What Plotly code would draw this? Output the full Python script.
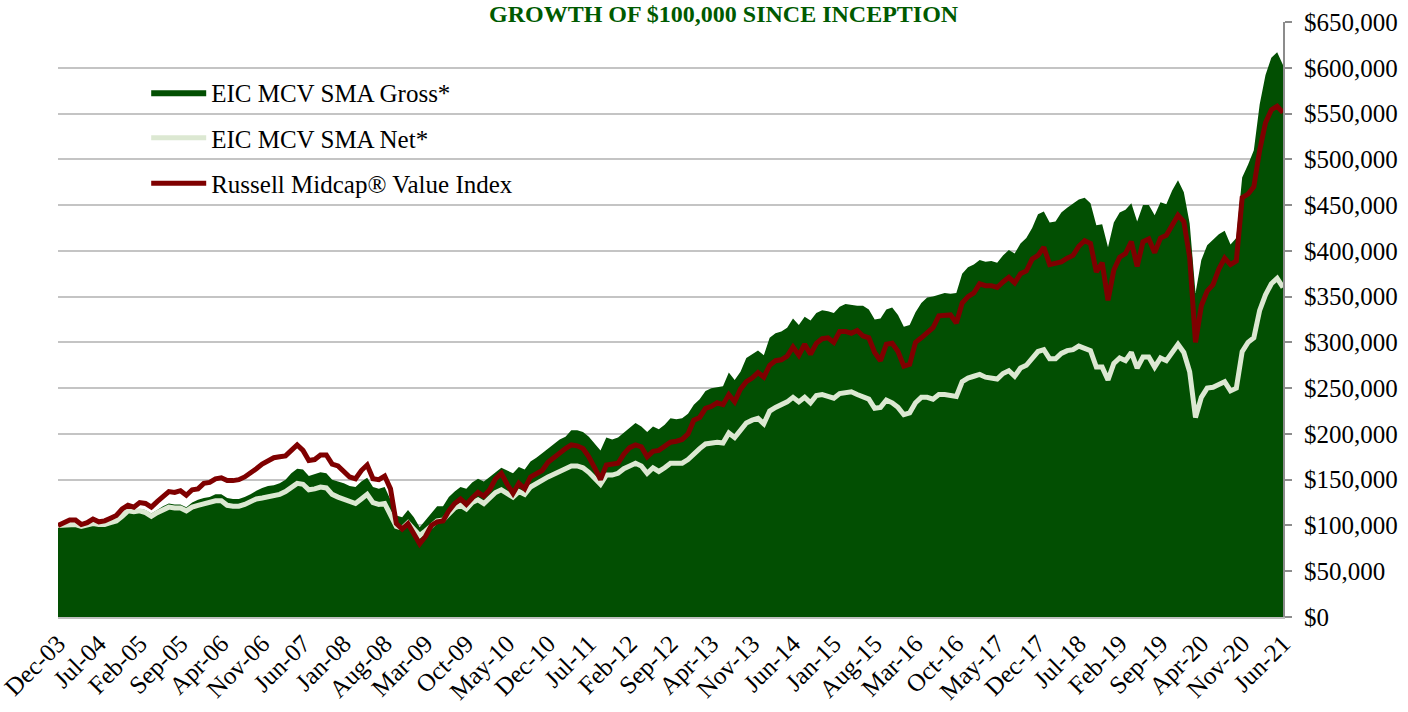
import plotly.graph_objects as go

# ---------------- data (values in $ thousands) ----------------
MONTH_NAMES = ["Jan", "Feb", "Mar", "Apr", "May", "Jun",
               "Jul", "Aug", "Sep", "Oct", "Nov", "Dec"]
N_MONTHS = 211  # Dec-03 .. Jun-21
months = []
for i in range(N_MONTHS):
    k = 11 + i
    months.append(f"{MONTH_NAMES[k % 12]}-{(2003 + k // 12) % 100:02d}")

tick_labels = months[::7]

gross_k = [
    100,
    101, 102, 102, 100, 101, 103, 102, 103, 104, 106, 112, 118,   # 2004
    117, 118, 117, 113, 117, 121, 124, 123, 123, 120, 125, 128,   # 2005
    130, 131, 134, 134, 130, 129, 129, 131, 134, 138, 141, 143,   # 2006
    144, 146, 150, 157, 162, 161, 154, 156, 158, 157, 150, 148,   # 2007
    146, 143, 142, 148, 152, 142, 140, 142, 128, 111, 109, 117,   # 2008
    109, 98, 106, 114, 121, 121, 131, 137, 142, 140, 147, 151,    # 2009
    148, 153, 158, 163, 160, 157, 164, 161, 170, 174, 179, 184,   # 2010
    190, 194, 197, 204, 204, 202, 197, 189, 182, 196, 194, 196,   # 2011
    201, 207, 212, 208, 202, 208, 205, 210, 217, 216, 217, 222,   # 2012
    232, 238, 247, 250, 251, 252, 267, 259, 268, 283, 287, 291,   # 2013
    286, 305, 310, 312, 316, 326, 319, 328, 324, 332, 335, 334,   # 2014
    332, 339, 342, 341, 340, 340, 336, 325, 326, 336, 338, 330,   # 2015
    317, 319, 333, 343, 349, 350, 352, 354, 353, 354, 375, 382,   # 2016
    385, 390, 388, 389, 387, 395, 401, 397, 408, 414, 425, 440,   # 2017
    443, 431, 432, 442, 447, 452, 456, 458, 452, 428, 429, 404,   # 2018
    431, 442, 445, 452, 432, 450, 450, 439, 453, 451, 466, 477,   # 2019
    464, 430, 354, 390, 406, 412, 418, 422, 407, 414, 480, 494,   # 2020
    510, 560, 592, 611, 617, 603,                                 # 2021
]

net_k = [
    100,
    100, 101, 101, 99, 100, 102, 101, 101, 103, 105, 110, 116,    # 2004
    115, 116, 114, 110, 114, 117, 120, 119, 119, 116, 120, 122,   # 2005
    124, 125, 127, 127, 122, 121, 121, 123, 126, 129, 130, 131,   # 2006
    132, 134, 137, 141, 146, 145, 139, 140, 142, 141, 134, 131,   # 2007
    129, 126, 124, 129, 134, 125, 123, 124, 112, 99, 97, 103,     # 2008
    96, 89, 94, 100, 105, 106, 113, 119, 122, 118, 125, 128,      # 2009
    124, 130, 136, 139, 135, 131, 137, 134, 142, 146, 150, 153,   # 2010
    156, 159, 162, 165, 165, 163, 158, 151, 145, 155, 155, 157,   # 2011
    162, 165, 168, 165, 157, 163, 159, 163, 168, 168, 168, 172,   # 2012
    179, 184, 189, 190, 191, 190, 201, 196, 204, 212, 215, 217,   # 2013
    211, 225, 229, 232, 235, 240, 235, 240, 234, 242, 243, 241,   # 2014
    239, 244, 245, 246, 243, 240, 238, 228, 229, 237, 234, 229,   # 2015
    221, 223, 234, 240, 240, 238, 243, 243, 242, 241, 257, 261,   # 2016
    263, 265, 262, 261, 260, 266, 269, 263, 272, 275, 283, 290,   # 2017
    292, 282, 282, 288, 291, 292, 296, 294, 291, 273, 273, 259,   # 2018
    277, 283, 280, 289, 272, 284, 284, 273, 283, 280, 290, 298,   # 2019
    289, 268, 218, 240, 250, 251, 254, 257, 247, 250, 290, 300,   # 2020
    305, 335, 352, 364, 370, 360,                                 # 2021
]

russell_k = [
    100,
    103, 106, 106, 101, 103, 107, 104, 105, 108, 111, 118, 122,   # 2004
    120, 125, 124, 120, 126, 131, 137, 136, 138, 133, 139, 140,   # 2005
    146, 147, 151, 152, 149, 149, 150, 153, 157, 162, 167, 171,   # 2006
    174, 175, 176, 182, 188, 182, 171, 172, 177, 177, 167, 165,   # 2007
    159, 153, 151, 160, 166, 151, 150, 154, 140, 102, 96, 102,    # 2008
    91, 80, 88, 100, 104, 105, 116, 124, 129, 123, 130, 136,      # 2009
    132, 139, 151, 157, 145, 135, 146, 140, 153, 156, 160, 169,   # 2010
    174, 180, 184, 188, 187, 184, 175, 163, 150, 166, 167, 168,   # 2011
    178, 185, 188, 186, 175, 181, 182, 187, 191, 192, 194, 200,   # 2012
    215, 218, 228, 230, 234, 232, 243, 235, 249, 257, 261, 267,   # 2013
    262, 275, 280, 281, 285, 295, 286, 298, 287, 299, 304, 305,   # 2014
    300, 312, 312, 310, 313, 307, 305, 289, 280, 298, 299, 290,   # 2015
    274, 276, 300, 305, 310, 316, 329, 330, 330, 321, 343, 350,   # 2016
    354, 364, 362, 362, 360, 366, 371, 365, 375, 378, 391, 395,   # 2017
    404, 385, 386, 388, 392, 395, 405, 411, 408, 377, 387, 346,   # 2018
    379, 393, 397, 410, 383, 410, 413, 398, 414, 417, 428, 439,   # 2019
    432, 393, 300, 340, 356, 363, 380, 392, 385, 389, 458, 462,   # 2020
    470, 510, 540, 554, 558, 551,                                 # 2021
]

series_names = ["EIC MCV SMA Gross*", "EIC MCV SMA Net*", "Russell Midcap® Value Index"]
title_text = "GROWTH OF $100,000 SINCE INCEPTION"

# ---------------- styles ----------------
GREEN = "#024F02"
NET_COLOR = "#DCE8D2"
RED = "#7F0000"
FONT = "Liberation Serif"

gross = [v * 1000 for v in gross_k]
net = [v * 1000 for v in net_k]
russell = [v * 1000 for v in russell_k]

fig = go.Figure()
fig.add_trace(go.Scatter(
    x=months, y=gross, name=series_names[0], mode="lines",
    line=dict(width=0, color=GREEN), fill="tozeroy", fillcolor=GREEN,
    legendgroup="a"))
fig.add_trace(go.Scatter(
    x=months, y=net, name=series_names[1], mode="lines",
    line=dict(width=5, color=NET_COLOR), legendgroup="b"))
fig.add_trace(go.Scatter(
    x=months, y=russell, name=series_names[2], mode="lines",
    line=dict(width=5, color=RED), legendgroup="c"))

fig.update_layout(
    width=1408, height=712,
    margin=dict(l=58, r=125, t=22, b=95),
    paper_bgcolor="white", plot_bgcolor="white",
    font=dict(family=FONT, size=25, color="black"),
    showlegend=True,
    legend=dict(
        x=0.072, y=0.92, xanchor="left", yanchor="top",
        bgcolor="rgba(0,0,0,0)", font=dict(family=FONT, size=25, color="black"),
        tracegroupgap=10, itemwidth=55, traceorder="grouped",
    ),
    xaxis=dict(
        type="category", range=[0, N_MONTHS - 1], automargin=False,
        tickmode="array", tickvals=tick_labels, ticktext=tick_labels,
        tickangle=-45, showgrid=False, zeroline=False,
        showline=True, linecolor="#BFBFBF", linewidth=2,
        ticks="", tickfont=dict(family=FONT, size=25, color="black"),
    ),
    yaxis=dict(
        side="right", range=[0, 650000], tick0=0, dtick=50000, automargin=False,
        tickprefix="$", tickformat=",d",
        showgrid=True, gridcolor="#C4C4C4", gridwidth=2, zeroline=False,
        showline=True, linecolor="#8C8C8C", linewidth=2,
        ticks="outside", ticklen=7, tickcolor="#8C8C8C", tickwidth=2,
        ticklabelstandoff=7,
        tickfont=dict(family=FONT, size=25, color="black"),
    ),
    annotations=[dict(
        text="<b>" + title_text + "</b>", xref="paper", yref="paper",
        x=(724 - 58) / 1225, y=0.9883, xanchor="center", yanchor="bottom",
        showarrow=False, font=dict(family=FONT, size=24, color="#005A00"),
    )],
)

# remove the browser's default page margin so the figure sits at the window corner
fig.write_html("out.html", config={"displayModeBar": False},
               post_script="document.body.style.margin='0';")
